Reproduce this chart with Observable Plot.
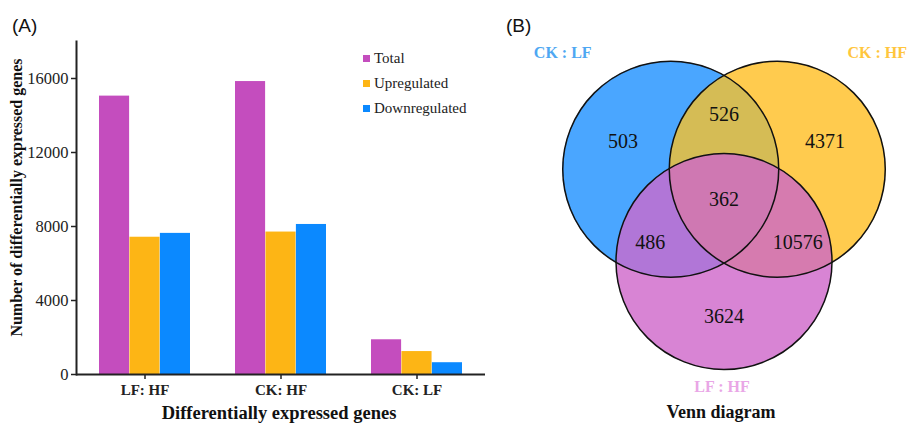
<!DOCTYPE html>
<html>
<head>
<meta charset="utf-8">
<script src="https://cdn.jsdelivr.net/npm/d3@7"></script>
<script src="https://cdn.jsdelivr.net/npm/@observablehq/plot@0.6"></script>
<style>
  body { margin: 0; background: #fff; width: 909px; height: 424px; position: relative; overflow: hidden; }
  #bars { position: absolute; left: 0; top: 0; }
  #venn { position: absolute; left: 500px; top: 0; }
  .panel { position: absolute; z-index: 2; font-family: "Liberation Sans", Arial, sans-serif; font-size: 19px; color: #111; line-height: 1; }
  .legend { position: absolute; z-index: 2; left: 363px; top: 46px; font-family: "Liberation Serif", "Times New Roman", serif; font-size: 15px; color: #222; }
  .legend div { height: 25px; display: flex; align-items: center; }
  .legend .sw { width: 7px; height: 7px; margin-right: 4px; display: inline-block; }
</style>
</head>
<body>
<div id="bars"></div>
<div id="venn"></div>
<div class="legend" id="legend"></div>
<div class="panel" style="left:12px;top:16px">(A)</div>
<div class="panel" style="left:506px;top:16px">(B)</div>
<script>
// ---- Differentially expressed genes per comparison ----
const comparisons = ["LF: HF", "CK: HF", "CK: LF"];
const seriesNames = ["Total", "Upregulated", "Downregulated"];
const totalDEG = [15048, 15835, 1877];
const upDEG = [7420, 7700, 1240];
const downDEG = [7628, 8110, 637];
const seriesColors = ["#C44DBE", "#FDB515", "#0B89FF"];
const yTicks = [0, 4000, 8000, 12000, 16000];
const yMax = 18000;

// ---- Venn diagram: sets and region counts ----
const vennSets = ["CK : LF", "CK : HF", "LF : HF"];
const vennSetColors = ["#4EA7F2", "#FFC63D", "#E9A6E6"];
// region key = membership in [CK:LF, CK:HF, LF:HF]
const regionKeys = ["100", "010", "001", "110", "101", "011", "111"];
const regionCounts = [503, 4371, 3624, 526, 486, 10576, 362];
const regionColors = ["#4AA6FF", "#FFCB4E", "#D884D4", "#D5BC55", "#B176D7", "#D67BAF", "#CF78B2"];

const serif = "'Liberation Serif', 'Times New Roman', serif";

// ================= Bar chart =================
{
  const W = 490, H = 424, mL = 76, mR = 5, mT = 41, mB = 50;
  const padIn = 0.33, padOut = 0.165;
  const step = (W - mL - mR) / (comparisons.length - padIn + 2 * padOut);
  const sub = step * (1 - padIn) / seriesNames.length;
  const values = [totalDEG, upDEG, downDEG];
  const rows = comparisons.flatMap((c, i) =>
    seriesNames.map((s, j) => ({comparison: c, series: s, value: values[j][i]})));

  const chart = Plot.plot({
    width: W, height: H,
    marginLeft: mL, marginRight: mR, marginTop: mT, marginBottom: mB,
    style: {fontFamily: serif, background: "transparent", color: "#222"},
    x: {domain: comparisons, paddingInner: padIn, paddingOuter: padOut, axis: null},
    y: {domain: [0, yMax], axis: null},
    color: {domain: seriesNames, range: seriesColors},
    marks: [
      ...seriesNames.map((s, j) => Plot.barY(rows.filter(d => d.series === s), {
        x: "comparison", y: "value", fill: "series",
        insetLeft: j * sub, insetRight: (seriesNames.length - 1 - j) * sub
      })),
      Plot.axisY({ticks: yTicks, tickFormat: "d", tickSize: 5, tickPadding: 3,
        fontSize: 16.5, label: null, stroke: "#222", strokeWidth: 1.5}),
      Plot.axisX({tickSize: 5, tickPadding: 5, fontSize: 15, fontWeight: "bold",
        label: null, stroke: "#222", strokeWidth: 1.5}),
      Plot.frame({anchor: "left", stroke: "#222", strokeWidth: 2}),
      Plot.ruleY([0], {stroke: "#222", strokeWidth: 2}),
      Plot.text(["Number of differentially expressed genes"], {
        frameAnchor: "left", rotate: -90, dx: -60, dy: -10.5, textAnchor: "middle",
        fontSize: 16, fontWeight: "bold", fill: "#111"}),
      Plot.text(["Differentially expressed genes"], {
        frameAnchor: "bottom", dx: -2, dy: 39, lineAnchor: "middle",
        fontSize: 18.5, fontWeight: "bold", fill: "#111"})
    ]
  });
  document.getElementById("bars").append(chart);

  const legend = document.getElementById("legend");
  seriesNames.forEach((s, j) => {
    const row = document.createElement("div");
    const sw = document.createElement("span");
    sw.className = "sw";
    sw.style.background = seriesColors[j];
    row.append(sw, document.createTextNode(s));
    legend.append(row);
  });
}

// ================= Venn diagram =================
{
  const VW = 409, VH = 424;
  const R = 108;                 // circle radius
  const hub = [223.5, 199.5];    // centre of the three circles
  const spread = 61.5;           // distance of each circle centre from the hub
  const angles = [210, 330, 90]; // degrees, screen coordinates (y down)
  const circles = vennSets.map((name, i) => {
    const a = angles[i] * Math.PI / 180;
    return {name, cx: hub[0] + spread * Math.cos(a), cy: hub[1] + spread * Math.sin(a)};
  });
  const keyAt = (x, y) => circles.map(c => ((x - c.cx) ** 2 + (y - c.cy) ** 2 <= R * R) ? "1" : "0").join("");
  const colorOf = new Map(regionKeys.map((k, i) => [k, regionColors[i]]));

  // region label anchors: centroid of each region, pushed away from the hub
  // (a little for single-set regions, more for the pairwise lenses)
  const push = {1: 1.03, 2: 1.16, 3: 1};
  const acc = new Map(regionKeys.map(k => [k, {sx: 0, sy: 0, n: 0}]));
  for (let x = 0; x < VW; x += 1) for (let y = 0; y < VH; y += 1) {
    const a = acc.get(keyAt(x + 0.5, y + 0.5));
    if (a) { a.sx += x + 0.5; a.sy += y + 0.5; a.n++; }
  }
  const regions = regionKeys.map((k, i) => {
    const a = acc.get(k);
    const f = push[k.split("").filter(c => c === "1").length];
    return {
      key: k, count: regionCounts[i],
      x: hub[0] + (a.sx / a.n - hub[0]) * f,
      y: hub[1] + (a.sy / a.n - hub[1]) * f
    };
  });

  // set names placed around their circles
  const setLabels = [
    {text: vennSets[0], x: circles[0].cx - R, y: circles[0].cy - R - 8, fill: vennSetColors[0]},
    {text: vennSets[1], x: circles[1].cx + R - 8, y: circles[1].cy - R - 8, fill: vennSetColors[1]},
    {text: vennSets[2], x: circles[2].cx - 2, y: circles[2].cy + R + 17, fill: vennSetColors[2]}
  ];

  const venn = Plot.plot({
    width: VW, height: VH, margin: 0,
    style: {fontFamily: serif, background: "transparent"},
    x: {domain: [0, VW], range: [0, VW], axis: null},
    y: {domain: [0, VH], range: [0, VH], axis: null},
    color: {type: "identity"},
    marks: [
      Plot.raster({x1: 0, y1: 0, x2: VW, y2: VH, width: VW, height: VH,
        fill: (x, y) => colorOf.get(keyAt(x, y)) ?? "#ffffff", imageRendering: "auto"}),
      Plot.dot(circles, {x: "cx", y: "cy", r: R, fill: "none", stroke: "#111", strokeWidth: 1.5}),
      Plot.text(regions, {x: "x", y: "y", text: d => String(d.count), fontSize: 20, fill: "#111"}),
      Plot.text(setLabels, {x: "x", y: "y", text: "text", fill: "fill", fontSize: 16, fontWeight: "bold"}),
      Plot.text(["Venn diagram"], {x: [hub[0] - 3], y: [412], fontSize: 18, fontWeight: "bold", fill: "#111"})
    ]
  });
  document.getElementById("venn").append(venn);
}
</script>
</body>
</html>
